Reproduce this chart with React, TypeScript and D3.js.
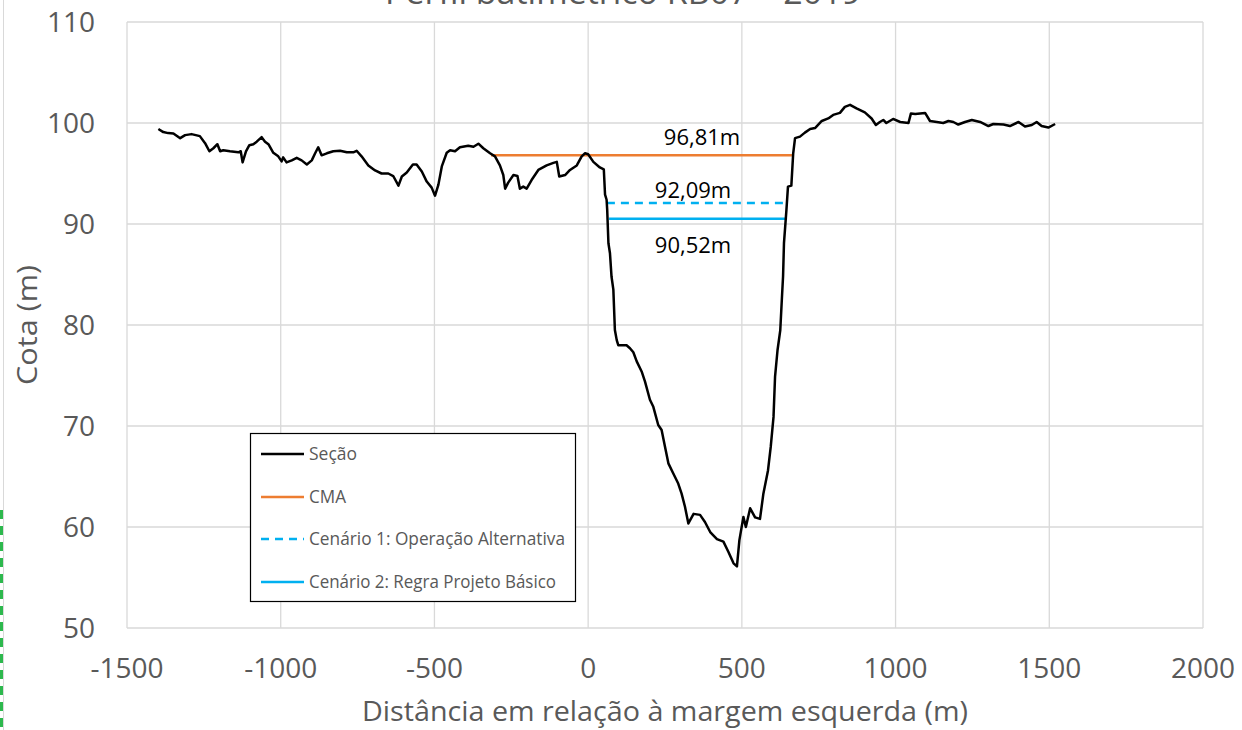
import React from "react";
import * as d3 from "d3";

const secX = [-1398,-1382,-1366,-1349,-1327,-1311,-1290,-1263,-1246,-1232,-1219,-1206,-1197,-1187,-1165,-1138,-1130,-1124,-1113,-1102,-1089,-1078,-1062,-1051,-1040,-1024,-1008,-997,-992,-981,-964,-948,-932,-915,-899,-888,-878,-867,-850,-829,-807,-785,-764,-753,-737,-715,-693,-672,-650,-634,-617,-606,-590,-570,-558,-541,-525,-509,-498,-487,-476,-460,-449,-433,-417,-390,-373,-357,-341,-319,-303,-287,-276,-270,-260,-243,-230,-222,-211,-200,-184,-162,-135,-113,-102,-94,-75,-59,-37,-21,-10,0,17,38,51,55,60,62,66,71,76,82,87,93,98,103,125,136,147,158,174,185,201,212,228,239,250,261,277,293,304,315,326,343,364,380,397,419,440,456,473,484,492,505,513,527,543,559,570,585,594,603,608,616,625,630,634,637,645,650,661,667,673,689,705,722,738,760,781,797,819,835,852,873,900,922,936,949,960,970,992,1015,1042,1050,1064,1080,1096,1112,1134,1155,1172,1188,1204,1226,1248,1275,1302,1318,1351,1372,1400,1421,1443,1459,1475,1497,1519];
const secY = [99.4,99.1,99.0,98.97,98.5,98.8,98.9,98.7,98.0,97.2,97.5,97.9,97.2,97.3,97.2,97.1,97.2,96.1,97.2,97.8,97.9,98.15,98.6,98.15,97.9,97.05,96.7,96.2,96.6,96.1,96.3,96.55,96.3,95.9,96.3,97.0,97.6,96.8,97.0,97.2,97.25,97.1,97.1,97.25,96.7,95.8,95.3,95.0,95.0,94.75,93.8,94.7,95.1,95.9,95.9,95.2,94.2,93.6,92.8,93.9,95.7,97.05,97.3,97.2,97.6,97.75,97.65,97.95,97.5,97.0,96.7,95.8,94.85,93.5,94.1,94.85,94.75,93.5,93.7,93.5,94.35,95.35,95.8,96.05,96.15,94.7,94.85,95.35,95.8,96.7,97.0,96.9,96.15,95.6,95.4,92.9,92.4,91.4,88.1,87.1,84.8,83.5,79.5,78.5,78.0,78.0,78.0,77.7,77.3,76.4,75.4,74.4,72.6,71.9,70.1,69.6,67.95,66.3,65.3,64.3,63.3,62.0,60.35,61.3,61.2,60.5,59.5,58.8,58.55,57.55,56.4,56.1,58.7,61.0,60.0,61.85,60.95,60.8,63.3,65.6,67.95,70.9,74.9,77.5,79.5,82.5,84.8,88.1,91.4,93.7,93.8,97.0,98.5,98.65,99.05,99.4,99.5,100.2,100.45,100.8,101.0,101.6,101.8,101.45,101.05,100.45,99.8,100.1,100.3,100.0,100.4,100.1,100.0,100.95,100.9,100.95,101.0,100.2,100.1,100.0,100.2,100.1,99.85,100.1,100.3,100.1,99.7,99.9,99.85,99.7,100.1,99.65,99.8,100.1,99.7,99.55,99.9];

const cmaLevel = 96.81;
const cmaRange = [-316, 663];
const cen1Level = 92.09;
const cen1Range = [61, 634];
const cen2Level = 90.52;
const cen2Range = [68, 647];

const xTicks = [-1500, -1000, -500, 0, 500, 1000, 1500, 2000];
const yTicks = [50, 60, 70, 80, 90, 100, 110];

const titleText = "Perfil batimétrico RB07 – 2019";
const xTitle = "Distância em relação à margem esquerda (m)";
const yTitle = "Cota (m)";
const legendLabels = ["Seção", "CMA", "Cenário 1: Operação Alternativa", "Cenário 2: Regra Projeto Básico"];
const levelLabels = ["96,81m", "92,09m", "90,52m"];

const W = 1242, H = 730;
const FONT = "'Open Sans', 'Noto Sans', sans-serif";
const GRAY = "#595959";
const ORANGE = "#ED7D31";
const BLUE = "#00B0F0";

export default function App() {
  const x = d3.scaleLinear().domain([-1500, 2000]).range([127, 1203]);
  const y = d3.scaleLinear().domain([50, 110]).range([628, 22]);
  const pts: [number, number][] = secX.map((v, i) => [v, secY[i]]);
  const line = d3.line<[number, number]>().x(d => x(d[0])).y(d => y(d[1]));

  const legendRows = [
    { label: legendLabels[0], color: "#000", dash: undefined, w: 2.5 },
    { label: legendLabels[1], color: ORANGE, dash: undefined, w: 2.5 },
    { label: legendLabels[2], color: BLUE, dash: "8,6", w: 2.5 },
    { label: legendLabels[3], color: BLUE, dash: undefined, w: 2.5 },
  ];
  const legendY = [454, 497, 539, 582];
  const legendTextLen = [48, 37, 256, 247];

  return (
    <svg width={W} height={H} style={{ position: "absolute", left: 0, top: 0, background: "#fff" }} fontFamily={FONT}>
      <rect x={0} y={0} width={W} height={H} fill="#fff" />
      <line x1={3.5} y1={0} x2={3.5} y2={H} stroke="#d9d9d9" strokeWidth={1} />
      <line x1={1.5} y1={510} x2={1.5} y2={H} stroke="#2db84d" strokeWidth={3} strokeDasharray="9,7" />
      <text x={623} y={4} textAnchor="middle" fontSize={33} fill={GRAY} textLength={476} lengthAdjust="spacingAndGlyphs">{titleText}</text>
      {yTicks.map(t => (
        <line key={"gy" + t} x1={x(-1500)} x2={x(2000)} y1={y(t)} y2={y(t)} stroke="#d9d9d9" strokeWidth={1.3} />
      ))}
      {xTicks.map(t => (
        <line key={"gx" + t} x1={x(t)} x2={x(t)} y1={y(110)} y2={y(50)} stroke="#d9d9d9" strokeWidth={1.3} />
      ))}
      {yTicks.map(t => (
        <text key={"ty" + t} x={95} y={y(t) + 10} textAnchor="end" fontSize={28} fill={GRAY}>{t}</text>
      ))}
      {xTicks.map(t => (
        <text key={"tx" + t} x={x(t)} y={678} textAnchor="middle" fontSize={28} fill={GRAY}>{t}</text>
      ))}
      <text x={665} y={721} textAnchor="middle" fontSize={28} fill={GRAY} textLength={606} lengthAdjust="spacingAndGlyphs">{xTitle}</text>
      <text transform={`translate(37,325) rotate(-90)`} textAnchor="middle" fontSize={28} fill={GRAY} textLength={120} lengthAdjust="spacingAndGlyphs">{yTitle}</text>
      <line x1={x(cmaRange[0])} x2={x(cmaRange[1])} y1={y(cmaLevel)} y2={y(cmaLevel)} stroke={ORANGE} strokeWidth={2.5} />
      <line x1={x(cen1Range[0])} x2={x(cen1Range[1])} y1={y(cen1Level)} y2={y(cen1Level)} stroke={BLUE} strokeWidth={2.5} strokeDasharray="8,6" />
      <line x1={x(cen2Range[0])} x2={x(cen2Range[1])} y1={y(cen2Level)} y2={y(cen2Level)} stroke={BLUE} strokeWidth={2.5} />
      <path d={line(pts) || ""} fill="none" stroke="#000" strokeWidth={2.5} strokeLinejoin="round" />
      <text x={702} y={145} textAnchor="middle" fontSize={22} fill="#000">{levelLabels[0]}</text>
      <text x={693} y={198} textAnchor="middle" fontSize={22} fill="#000">{levelLabels[1]}</text>
      <text x={693} y={253} textAnchor="middle" fontSize={22} fill="#000">{levelLabels[2]}</text>
      <rect x={250.5} y={433.5} width={325} height={168} fill="#fff" stroke="#000" strokeWidth={1.2} />
      {legendRows.map((r, i) => (
        <g key={"lg" + i}>
          <line x1={261} x2={304} y1={legendY[i]} y2={legendY[i]} stroke={r.color} strokeWidth={r.w} strokeDasharray={r.dash} />
          <text x={309} y={legendY[i] + 6} fontSize={18} fill={GRAY} textLength={legendTextLen[i]} lengthAdjust="spacingAndGlyphs">{r.label}</text>
        </g>
      ))}
    </svg>
  );
}
